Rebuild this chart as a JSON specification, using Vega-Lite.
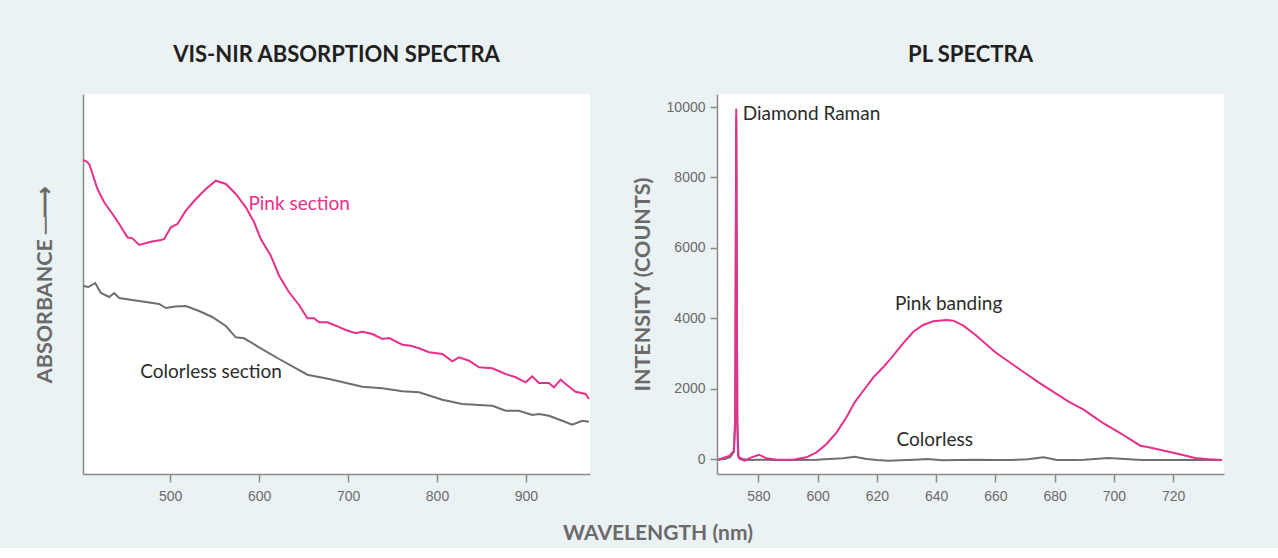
{
  "$schema": "https://vega.github.io/schema/vega-lite/v6.json",
  "padding": {"left": 34, "top": 44, "right": 52, "bottom": 4},
  "title": {"text": "WAVELENGTH (nm)", "orient": "bottom", "anchor": "middle", "font": "Lato", "fontSize": 21, "fontWeight": "bold", "color": "#6a6a6a", "offset": 20, "dx": 28},
  "spacing": 127,
  "bounds": "flush",
  "datasets": {
    "absPink": [
      {"wavelength": 402.2, "absorbance": 3.14}, {"wavelength": 405.3, "absorbance": 3.13}, {"wavelength": 409, "absorbance": 3.1},
      {"wavelength": 418.3, "absorbance": 2.85}, {"wavelength": 425.8, "absorbance": 2.717}, {"wavelength": 435.2, "absorbance": 2.6},
      {"wavelength": 442.7, "absorbance": 2.5}, {"wavelength": 452, "absorbance": 2.367}, {"wavelength": 457.6, "absorbance": 2.357},
      {"wavelength": 465.2, "absorbance": 2.29}, {"wavelength": 478.3, "absorbance": 2.323}, {"wavelength": 489.6, "absorbance": 2.34},
      {"wavelength": 493.3, "absorbance": 2.35}, {"wavelength": 500.8, "absorbance": 2.467}, {"wavelength": 508.2, "absorbance": 2.5},
      {"wavelength": 517.6, "absorbance": 2.633}, {"wavelength": 528.9, "absorbance": 2.75}, {"wavelength": 540.1, "absorbance": 2.85},
      {"wavelength": 551.3, "absorbance": 2.933}, {"wavelength": 562.6, "absorbance": 2.9}, {"wavelength": 573.8, "absorbance": 2.8},
      {"wavelength": 585.1, "absorbance": 2.667}, {"wavelength": 594.4, "absorbance": 2.517}, {"wavelength": 601.9, "absorbance": 2.35},
      {"wavelength": 613.1, "absorbance": 2.183}, {"wavelength": 622.5, "absorbance": 1.983}, {"wavelength": 633.7, "absorbance": 1.817},
      {"wavelength": 644.9, "absorbance": 1.69}, {"wavelength": 654.3, "absorbance": 1.557}, {"wavelength": 661.8, "absorbance": 1.557},
      {"wavelength": 667.4, "absorbance": 1.517}, {"wavelength": 676.7, "absorbance": 1.517}, {"wavelength": 686.2, "absorbance": 1.483},
      {"wavelength": 697.4, "absorbance": 1.44}, {"wavelength": 708.7, "absorbance": 1.407}, {"wavelength": 716.1, "absorbance": 1.423},
      {"wavelength": 727.3, "absorbance": 1.4}, {"wavelength": 738.5, "absorbance": 1.35}, {"wavelength": 746.1, "absorbance": 1.36},
      {"wavelength": 761, "absorbance": 1.293}, {"wavelength": 770.4, "absorbance": 1.283}, {"wavelength": 779.8, "absorbance": 1.257},
      {"wavelength": 791, "absorbance": 1.217}, {"wavelength": 806, "absorbance": 1.2}, {"wavelength": 817.2, "absorbance": 1.127},
      {"wavelength": 824.7, "absorbance": 1.167}, {"wavelength": 836, "absorbance": 1.133}, {"wavelength": 847.2, "absorbance": 1.067},
      {"wavelength": 862.2, "absorbance": 1.057}, {"wavelength": 877.2, "absorbance": 1.0}, {"wavelength": 888.4, "absorbance": 0.967},
      {"wavelength": 899.7, "absorbance": 0.917}, {"wavelength": 907.1, "absorbance": 0.977}, {"wavelength": 914.6, "absorbance": 0.91},
      {"wavelength": 925.8, "absorbance": 0.91}, {"wavelength": 931.5, "absorbance": 0.867}, {"wavelength": 939, "absorbance": 0.943},
      {"wavelength": 944.6, "absorbance": 0.9}, {"wavelength": 955.8, "absorbance": 0.823}, {"wavelength": 967.1, "absorbance": 0.8},
      {"wavelength": 970.8, "absorbance": 0.75}
    ],
    "absColorless": [
      {"wavelength": 402.2, "absorbance": 1.88}, {"wavelength": 408, "absorbance": 1.87}, {"wavelength": 415.7, "absorbance": 1.91},
      {"wavelength": 422.1, "absorbance": 1.81}, {"wavelength": 431.5, "absorbance": 1.77}, {"wavelength": 437.1, "absorbance": 1.81},
      {"wavelength": 442.7, "absorbance": 1.76}, {"wavelength": 457.3, "absorbance": 1.74}, {"wavelength": 472.7, "absorbance": 1.72},
      {"wavelength": 487.6, "absorbance": 1.7}, {"wavelength": 495.2, "absorbance": 1.66}, {"wavelength": 505.6, "absorbance": 1.675},
      {"wavelength": 517.6, "absorbance": 1.68}, {"wavelength": 532.6, "absorbance": 1.63}, {"wavelength": 547.2, "absorbance": 1.57},
      {"wavelength": 562.6, "absorbance": 1.48}, {"wavelength": 573.8, "absorbance": 1.367}, {"wavelength": 583.1, "absorbance": 1.357},
      {"wavelength": 600, "absorbance": 1.267}, {"wavelength": 622.5, "absorbance": 1.15}, {"wavelength": 654.3, "absorbance": 0.993},
      {"wavelength": 678.7, "absorbance": 0.95}, {"wavelength": 716.1, "absorbance": 0.873}, {"wavelength": 738.5, "absorbance": 0.857},
      {"wavelength": 761, "absorbance": 0.827}, {"wavelength": 779.8, "absorbance": 0.817}, {"wavelength": 806, "absorbance": 0.743},
      {"wavelength": 828.4, "absorbance": 0.7}, {"wavelength": 862.1, "absorbance": 0.683}, {"wavelength": 877.2, "absorbance": 0.633},
      {"wavelength": 892.1, "absorbance": 0.633}, {"wavelength": 907.1, "absorbance": 0.59}, {"wavelength": 914.6, "absorbance": 0.6},
      {"wavelength": 925.8, "absorbance": 0.583}, {"wavelength": 940.8, "absorbance": 0.533}, {"wavelength": 952, "absorbance": 0.493},
      {"wavelength": 963.3, "absorbance": 0.533}, {"wavelength": 970.8, "absorbance": 0.523}
    ],
    "absLabels": [
      {"label": "Pink section", "wavelength": 645, "absorbance": 2.7, "series": "Pink"},
      {"label": "Colorless section", "wavelength": 546, "absorbance": 1.02, "series": "Colorless"}
    ],
    "plPink": [
      {"wavelength": 566.4, "intensity": -20}, {"wavelength": 570.3, "intensity": 94}, {"wavelength": 571.7, "intensity": 236},
      {"wavelength": 572.15, "intensity": 1200}, {"wavelength": 572.5, "intensity": 9950}, {"wavelength": 572.85, "intensity": 1200},
      {"wavelength": 573.1, "intensity": 94}, {"wavelength": 573.7, "intensity": 0}, {"wavelength": 575.4, "intensity": -48},
      {"wavelength": 577.6, "intensity": 48}, {"wavelength": 580.2, "intensity": 122}, {"wavelength": 582.7, "intensity": 20},
      {"wavelength": 586.1, "intensity": -20}, {"wavelength": 591.7, "intensity": -20}, {"wavelength": 596.2, "intensity": 48},
      {"wavelength": 599.6, "intensity": 190}, {"wavelength": 603, "intensity": 426}, {"wavelength": 606.4, "intensity": 758},
      {"wavelength": 609.7, "intensity": 1185}, {"wavelength": 612.5, "intensity": 1611}, {"wavelength": 615.4, "intensity": 1940},
      {"wavelength": 618.8, "intensity": 2321}, {"wavelength": 622.1, "intensity": 2605}, {"wavelength": 625.5, "intensity": 2935},
      {"wavelength": 628.9, "intensity": 3295}, {"wavelength": 632.3, "intensity": 3616}, {"wavelength": 635.6, "intensity": 3807},
      {"wavelength": 639, "intensity": 3912}, {"wavelength": 643.5, "intensity": 3949}, {"wavelength": 645.8, "intensity": 3929},
      {"wavelength": 649.2, "intensity": 3787}, {"wavelength": 653.6, "intensity": 3503}, {"wavelength": 660, "intensity": 3031},
      {"wavelength": 668.9, "intensity": 2508}, {"wavelength": 674.6, "intensity": 2179}, {"wavelength": 684.7, "intensity": 1628},
      {"wavelength": 689.8, "intensity": 1401}, {"wavelength": 696, "intensity": 1043}, {"wavelength": 702.7, "intensity": 710},
      {"wavelength": 708.9, "intensity": 378}, {"wavelength": 711.8, "intensity": 332}, {"wavelength": 720.8, "intensity": 162},
      {"wavelength": 727.5, "intensity": 28}, {"wavelength": 732, "intensity": -9}, {"wavelength": 736.5, "intensity": -28}
    ],
    "plColorless": [
      {"wavelength": 566.4, "intensity": -20}, {"wavelength": 569, "intensity": 10}, {"wavelength": 570.5, "intensity": 60},
      {"wavelength": 571.7, "intensity": 200}, {"wavelength": 572.15, "intensity": 1000}, {"wavelength": 572.5, "intensity": 9700},
      {"wavelength": 572.85, "intensity": 1000}, {"wavelength": 573.3, "intensity": 50}, {"wavelength": 575, "intensity": -10},
      {"wavelength": 577, "intensity": -30}, {"wavelength": 580, "intensity": -20}, {"wavelength": 586, "intensity": -30},
      {"wavelength": 592, "intensity": -30}, {"wavelength": 599.6, "intensity": -20}, {"wavelength": 604, "intensity": 0},
      {"wavelength": 608.7, "intensity": 20}, {"wavelength": 612.5, "intensity": 65}, {"wavelength": 616.5, "intensity": 0},
      {"wavelength": 620, "intensity": -30}, {"wavelength": 624, "intensity": -48}, {"wavelength": 630, "intensity": -30},
      {"wavelength": 633, "intensity": -20}, {"wavelength": 637, "intensity": 0}, {"wavelength": 642, "intensity": -37},
      {"wavelength": 648, "intensity": -30}, {"wavelength": 653.6, "intensity": -20}, {"wavelength": 660, "intensity": -25},
      {"wavelength": 665, "intensity": -30}, {"wavelength": 671, "intensity": -10}, {"wavelength": 676.3, "intensity": 48},
      {"wavelength": 680.7, "intensity": -30}, {"wavelength": 686, "intensity": -25}, {"wavelength": 690, "intensity": -20},
      {"wavelength": 698.2, "intensity": 28}, {"wavelength": 705, "intensity": -10}, {"wavelength": 709.5, "intensity": -30},
      {"wavelength": 715, "intensity": -25}, {"wavelength": 720, "intensity": -30}, {"wavelength": 730, "intensity": -20},
      {"wavelength": 736.5, "intensity": -30}
    ],
    "plLabels": [
      {"label": "Diamond Raman", "wavelength": 597.9, "intensity": 9800},
      {"label": "Pink banding", "wavelength": 644.2, "intensity": 4403},
      {"label": "Colorless", "wavelength": 639.5, "intensity": 540}
    ]
  },
  "hconcat": [
    {
      "width": 507,
      "height": 380,
      "title": {"text": "VIS-NIR ABSORPTION SPECTRA", "frame": "group", "anchor": "middle", "offset": 27, "font": "Lato", "fontSize": 22, "fontWeight": "bold", "color": "#231f20"},
      "layer": [
        {
          "data": {"name": "absColorless"},
          "mark": {"type": "line", "color": "#6e6e6e", "strokeWidth": 2},
          "encoding": {
            "x": {"field": "wavelength", "type": "quantitative", "scale": {"domain": [402, 972], "nice": false, "zero": false}, "axis": {"values": [500, 600, 700, 800, 900], "title": null}},
            "y": {"field": "absorbance", "type": "quantitative", "scale": {"domain": [0, 3.8], "nice": false}, "axis": {"labels": false, "ticks": false, "title": "ABSORBANCE  ─⟶", "titlePadding": 27}}
          }
        },
        {
          "data": {"name": "absPink"},
          "mark": {"type": "line", "color": "#e6318b", "strokeWidth": 2},
          "encoding": {
            "x": {"field": "wavelength", "type": "quantitative"},
            "y": {"field": "absorbance", "type": "quantitative"}
          }
        },
        {
          "data": {"name": "absLabels"},
          "mark": {"type": "text", "align": "center", "baseline": "middle", "font": "Lato", "fontSize": 19},
          "encoding": {
            "x": {"field": "wavelength", "type": "quantitative"},
            "y": {"field": "absorbance", "type": "quantitative"},
            "text": {"field": "label"},
            "color": {"field": "series", "type": "nominal", "scale": {"domain": ["Pink", "Colorless"], "range": ["#e6318b", "#2b2b2b"]}, "legend": null}
          }
        }
      ]
    },
    {
      "width": 507,
      "height": 380,
      "title": {"text": "PL SPECTRA", "frame": "group", "anchor": "middle", "offset": 27, "font": "Lato", "fontSize": 22, "fontWeight": "bold", "color": "#231f20"},
      "layer": [
        {
          "data": {"name": "plColorless"},
          "mark": {"type": "line", "color": "#6e6e6e", "strokeWidth": 2},
          "encoding": {
            "x": {"field": "wavelength", "type": "quantitative", "scale": {"domain": [566, 737.2], "nice": false, "zero": false}, "axis": {"values": [580, 600, 620, 640, 660, 680, 700, 720], "title": null}},
            "y": {"field": "intensity", "type": "quantitative", "scale": {"domain": [-426, 10370], "nice": false, "zero": false}, "axis": {"values": [0, 2000, 4000, 6000, 8000, 10000], "format": "d", "title": "INTENSITY (COUNTS)", "tickSize": 7, "labelPadding": 5, "titlePadding": 12}}
          }
        },
        {
          "data": {"name": "plPink"},
          "mark": {"type": "line", "color": "#e6318b", "strokeWidth": 2},
          "encoding": {
            "x": {"field": "wavelength", "type": "quantitative"},
            "y": {"field": "intensity", "type": "quantitative"}
          }
        },
        {
          "data": {"name": "plLabels"},
          "mark": {"type": "text", "align": "center", "baseline": "middle", "font": "Lato", "fontSize": 19, "color": "#2b2b2b"},
          "encoding": {
            "x": {"field": "wavelength", "type": "quantitative"},
            "y": {"field": "intensity", "type": "quantitative"},
            "text": {"field": "label"}
          }
        }
      ]
    }
  ],
  "config": {
    "background": "#eaf2f4",
    "view": {"fill": "white", "stroke": null},
    "axis": {
      "grid": false,
      "domainColor": "#8a8a8a",
      "domainWidth": 1.5,
      "tickColor": "#8a8a8a",
      "tickWidth": 1.5,
      "tickSize": 8,
      "labelFont": "Liberation Sans",
      "labelFontSize": 14,
      "labelColor": "#6a6a6a",
      "labelPadding": 7,
      "titleFont": "Lato",
      "titleFontSize": 21.5,
      "titleFontWeight": "bold",
      "titleColor": "#6a6a6a"
    }
  }
}
